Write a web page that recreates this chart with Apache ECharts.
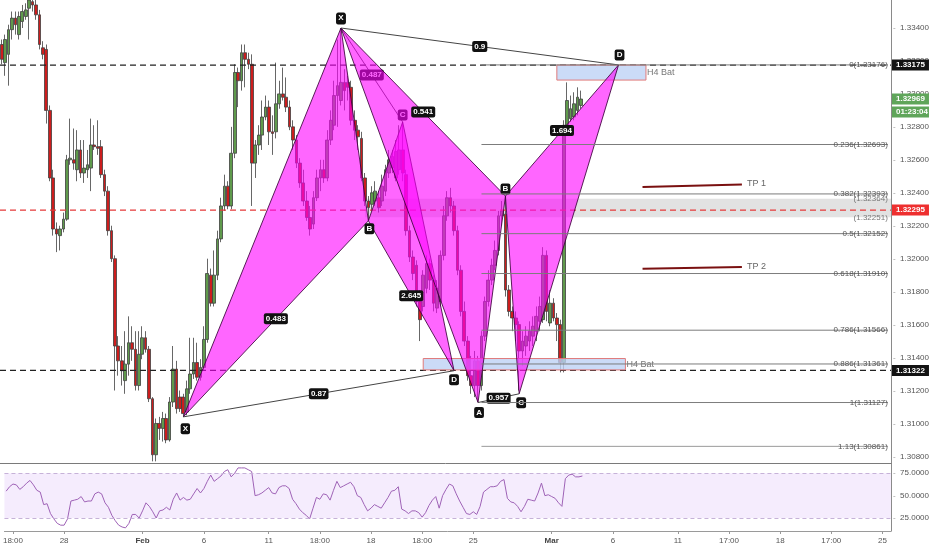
<!DOCTYPE html>
<html>
<head>
<meta charset="utf-8">
<script src="https://cdn.jsdelivr.net/npm/echarts@6/dist/echarts.min.js"></script>
<style>
  html, body { margin: 0; padding: 0; background: #fff; }
  #chart { width: 932px; height: 550px; }
</style>
</head>
<body>
<div id="chart"></div>
<script>
// 4H candles, [open, close, low, high]
const candles = [
  [1.3330,1.3321,1.3318,1.3333],[1.3319,1.3333,1.3311,1.3336],[1.3324,1.3339,1.3305,1.3342],[1.3339,1.3346,1.3333,1.3350],[1.3346,1.3342,1.3336,1.3350],
  [1.3336,1.3347,1.3333,1.3350],[1.3344,1.3350,1.3340,1.3354],[1.3347,1.3351,1.3345,1.3355],[1.3352,1.3357,1.3333,1.3360],[1.3356,1.3354,1.3350,1.3359],
  [1.3354,1.3348,1.3345,1.3357],[1.3348,1.3330,1.3327,1.3351],[1.3328,1.3324,1.3321,1.3332],[1.3327,1.3290,1.3282,1.3330],[1.3290,1.3249,1.3247,1.3293],
  [1.3249,1.3218,1.3214,1.3254],[1.3218,1.3215,1.3204,1.3222],[1.3214,1.3218,1.3205,1.3220],[1.3218,1.3224,1.3216,1.3228],[1.3224,1.3260,1.3223,1.3263],
  [1.3260,1.3261,1.3257,1.3285],[1.3260,1.3258,1.3254,1.3279],[1.3254,1.3266,1.3247,1.3278],[1.3266,1.3252,1.3249,1.3272],[1.3252,1.3255,1.3246,1.3272],
  [1.3254,1.3257,1.3249,1.3266],[1.3255,1.3269,1.3241,1.3285],[1.3269,1.3268,1.3266,1.3281],[1.3268,1.3267,1.3263,1.3284],[1.3268,1.3251,1.3249,1.3272],
  [1.3251,1.3241,1.3238,1.3254],[1.3241,1.3217,1.3214,1.3244],[1.3217,1.3200,1.3198,1.3220],[1.3200,1.3147,1.3120,1.3202],[1.3147,1.3138,1.3129,1.3153],
  [1.3138,1.3132,1.3123,1.3147],[1.3126,1.3136,1.3118,1.3156],[1.3136,1.3149,1.3129,1.3165],[1.3149,1.3145,1.3138,1.3159],[1.3145,1.3123,1.3120,1.3156],
  [1.3123,1.3142,1.3120,1.3156],[1.3142,1.3152,1.3139,1.3159],[1.3152,1.3145,1.3143,1.3156],[1.3145,1.3115,1.3113,1.3147],[1.3115,1.3081,1.3077,1.3116],
  [1.3081,1.3100,1.3077,1.3103],[1.3100,1.3097,1.3090,1.3104],[1.3097,1.3103,1.3089,1.3107],[1.3103,1.3090,1.3088,1.3106],[1.3090,1.3113,1.3089,1.3116],
  [1.3113,1.3133,1.3110,1.3147],[1.3133,1.3109,1.3106,1.3138],[1.3116,1.3109,1.3107,1.3120],[1.3116,1.3106,1.3104,1.3118],[1.3107,1.3121,1.3105,1.3126],
  [1.3121,1.3130,1.3118,1.3152],[1.3130,1.3137,1.3127,1.3152],[1.3137,1.3128,1.3126,1.3149],[1.3128,1.3134,1.3126,1.3139],[1.3134,1.3151,1.3132,1.3159],
  [1.3151,1.3191,1.3149,1.3200],[1.3190,1.3173,1.3171,1.3194],[1.3173,1.3190,1.3171,1.3205],[1.3190,1.3212,1.3187,1.3217],[1.3212,1.3232,1.3210,1.3237],
  [1.3232,1.3244,1.3229,1.3251],[1.3244,1.3232,1.3230,1.3247],[1.3232,1.3264,1.3230,1.3280],[1.3264,1.3313,1.3261,1.3318],[1.3313,1.3308,1.3292,1.3316],
  [1.3308,1.3325,1.3302,1.3330],[1.3325,1.3321,1.3304,1.3330],[1.3321,1.3318,1.3315,1.3325],[1.3318,1.3258,1.3232,1.3324],[1.3258,1.3269,1.3249,1.3272],
  [1.3269,1.3275,1.3263,1.3281],[1.3275,1.3286,1.3266,1.3296],[1.3286,1.3292,1.3284,1.3299],[1.3292,1.3277,1.3269,1.3296],[1.3277,1.3276,1.3263,1.3287],
  [1.3277,1.3294,1.3273,1.3319],[1.3294,1.3300,1.3291,1.3308],[1.3300,1.3298,1.3296,1.3316],[1.3298,1.3292,1.3289,1.3310],[1.3292,1.3280,1.3278,1.3296],
  [1.3280,1.3272,1.3266,1.3284],[1.3272,1.3258,1.3255,1.3275],[1.3258,1.3246,1.3243,1.3261],[1.3246,1.3235,1.3232,1.3254],[1.3235,1.3225,1.3223,1.3241],
  [1.3225,1.3218,1.3214,1.3232],[1.3221,1.3237,1.3218,1.3241],[1.3237,1.3249,1.3235,1.3254],[1.3249,1.3254,1.3241,1.3260],[1.3254,1.3249,1.3246,1.3260],
  [1.3249,1.3272,1.3247,1.3278],[1.3272,1.3284,1.3269,1.3290],[1.3281,1.3299,1.3278,1.3308],[1.3299,1.3305,1.3280,1.3333],[1.3296,1.3307,1.3293,1.3340],
  [1.3307,1.3302,1.3290,1.3315],[1.3307,1.3304,1.3296,1.3311],[1.3304,1.3284,1.3281,1.3308],[1.3284,1.3278,1.3272,1.3290],[1.3278,1.3274,1.3266,1.3281],
  [1.3273,1.3249,1.3247,1.3277],[1.3249,1.3235,1.3232,1.3252],[1.3235,1.3231,1.3223,1.3238],[1.3233,1.3240,1.3229,1.3244],[1.3235,1.3241,1.3232,1.3247],
  [1.3237,1.3231,1.3228,1.3241],[1.3235,1.3244,1.3232,1.3251],[1.3241,1.3254,1.3238,1.3257],[1.3252,1.3260,1.3249,1.3266],[1.3255,1.3262,1.3252,1.3266],
  [1.3249,1.3265,1.3247,1.3272],[1.3254,1.3266,1.3251,1.3281],[1.3266,1.3252,1.3247,1.3283],[1.3251,1.3217,1.3214,1.3254],[1.3217,1.3201,1.3198,1.3220],
  [1.3201,1.3191,1.3187,1.3205],[1.3196,1.3174,1.3171,1.3199],[1.3174,1.3163,1.3150,1.3181],[1.3171,1.3190,1.3168,1.3193],[1.3182,1.3197,1.3179,1.3202],
  [1.3197,1.3187,1.3181,1.3200],[1.3187,1.3173,1.3168,1.3190],[1.3170,1.3182,1.3167,1.3187],[1.3174,1.3202,1.3171,1.3205],[1.3202,1.3226,1.3199,1.3232],
  [1.3226,1.3237,1.3223,1.3241],[1.3237,1.3232,1.3228,1.3243],[1.3232,1.3217,1.3214,1.3235],[1.3217,1.3193,1.3190,1.3220],[1.3193,1.3168,1.3165,1.3196],
  [1.3168,1.3150,1.3147,1.3174],[1.3150,1.3129,1.3126,1.3153],[1.3129,1.3123,1.3118,1.3141],[1.3123,1.3138,1.3116,1.3144],[1.3138,1.3123,1.3113,1.3141],
  [1.3123,1.3153,1.3120,1.3156],[1.3153,1.3174,1.3150,1.3177],[1.3174,1.3187,1.3171,1.3193],[1.3187,1.3196,1.3184,1.3200],[1.3196,1.3205,1.3193,1.3211],
  [1.3205,1.3226,1.3202,1.3229],[1.3226,1.3229,1.3220,1.3235],[1.3227,1.3181,1.3177,1.3238],[1.3181,1.3168,1.3165,1.3184],[1.3168,1.3164,1.3156,1.3171],
  [1.3164,1.3160,1.3150,1.3168],[1.3160,1.3144,1.3120,1.3162],[1.3144,1.3150,1.3135,1.3156],[1.3147,1.3153,1.3141,1.3159],[1.3150,1.3156,1.3144,1.3162],
  [1.3153,1.3159,1.3147,1.3165],[1.3156,1.3165,1.3150,1.3171],[1.3162,1.3171,1.3156,1.3177],[1.3163,1.3202,1.3161,1.3207],[1.3202,1.3168,1.3162,1.3205],
  [1.3161,1.3173,1.3159,1.3181],[1.3173,1.3164,1.3162,1.3176],[1.3164,1.3160,1.3150,1.3167],[1.3160,1.3137,1.3131,1.3163],[1.3137,1.3281,1.3131,1.3284],
  [1.3281,1.3296,1.3278,1.3307],[1.3285,1.3291,1.3283,1.3299],[1.3286,1.3294,1.3284,1.3301],[1.3290,1.3298,1.3287,1.3304],[1.3293,1.32969,1.3291,1.3302]
];

// RSI(14), one value per candle
const rsi = [
  55,60,63,62,57,60,64,67,62,56, 54,40,41,30,24,19,17,17,24,44,
  45,46,49,43,44,44,52,54,52,42, 37,28,22,17,15,14,19,29,29,25,
  33,42,38,32,25,33,34,37,34,46, 53,45,48,45,46,52,58,53,58,66,
  73,66,69,72,77,79,71,75,81,81, 81,79,77,50,51,53,56,59,53,52,
  59,61,61,58,46,41,35,31,28,24, 36,48,46,52,51,45,56,66,59,61,
  63,65,60,50,48,40,33,36,40,38, 36,42,48,55,56,60,35,33,30,33,
  33,31,26,31,39,45,49,36,50,57, 63,61,52,44,37,30,29,32,29,38,
  54,57,60,60,61,66,68,47,43,42, 38,32,38,46,45,44,53,64,50,51,
  49,47,42,38,69,73,74,71,71,72
];

const barCount = 260;
const tickIdx = [2, 17, 40, 58, 77, 92, 107, 122, 137, 160, 178, 197, 212, 227, 242, 257];
const tickText = ['18:00', '28', 'Feb', '6', '11', '18:00', '18', '18:00', '25', 'Mar', '6', '11', '17:00', '18', '17:00', '25'];
const monthTicks = ['Feb', 'Mar'];

// harmonic patterns: X, A, B, C, D
const batOneBars = [53, 99, 107, 117, 132];
const batOnePrices = [1.3104, 1.3340, 1.3223, 1.3283, 1.3132];
const batOneRatios = ['0.483', '0.487', '2.645', '0.87'];   // XB, AC, BD, XD
const batTwoBars = [99, 139, 147, 151, 180];
const batTwoPrices = [1.3340, 1.31127, 1.3238, 1.3118, 1.33176];
const batTwoRatios = ['0.541', '0.957', '1.694', '0.9'];

// fib retracement
const fibLevels = ['0', '0.236', '0.382', '0.5', '0.618', '0.786', '0.886', '1', '1.13'];
const fibPrices = [1.33176, 1.32693, 1.32393, 1.32152, 1.31910, 1.31566, 1.31361, 1.31127, 1.30861];
const fibFrom = 140, fibTo = 258;

// zone, boxes, targets
const zonePrices = [1.32364, 1.32251];
const zoneFrom = 106;
const boxBars = [[162, 188], [123, 182]];
const boxPrices = [[1.33175, 1.33084], [1.31394, 1.31325]];
const boxText = ['H4 Bat', 'H4 Bat'];
const tpBars = [187, 216];
const tpPrices = [[1.32435, 1.32450], [1.31939, 1.31949]];
const tpText = ['TP 1', 'TP 2'];

// horizontal levels and price-scale badges
const levelPrices = [1.33175, 1.31322, 1.32295];
const levelColors = ['#222', '#222', '#e53a3a'];
const lastPrice = 1.32969;
const countdown = '01:23:04';
const badgePrices = [1.33175, 1.32969, 1.32295, 1.31322];
const badgeColors = ['#131313', '#5fa55a', '#ee2f2f', '#131313'];

const FONT = '"Liberation Sans", Arial, sans-serif';
const cats = Array.from({ length: barCount }, (_, i) => String(i));

function tag(text, x, y, bg) {
  return {
    type: 'text', x: x, y: y,
    style: {
      text: text, fill: '#fff', font: 'bold 8px ' + FONT, align: 'center', verticalAlign: 'middle',
      backgroundColor: bg || '#111', padding: [2, 2, 1, 2], borderRadius: 2
    }
  };
}

function batRender(bars, prices, ratios, offsets) {
  return function (params, api) {
    const p = bars.map((b, k) => api.coord([b, prices[k]]));
    const X = p[0], A = p[1], B = p[2], C = p[3], D = p[4];
    const fill = 'rgba(255,0,255,0.6)';
    const edge = 'rgba(60,0,60,0.85)';
    const kids = [
      { type: 'polygon', shape: { points: [X, A, B] }, style: { fill: fill, stroke: edge, lineWidth: 1 } },
      { type: 'polygon', shape: { points: [B, C, D] }, style: { fill: fill, stroke: edge, lineWidth: 1 } },
      { type: 'line', shape: { x1: X[0], y1: X[1], x2: D[0], y2: D[1] }, style: { stroke: '#444', lineWidth: 1 } },
      { type: 'line', shape: { x1: A[0], y1: A[1], x2: C[0], y2: C[1] }, style: { stroke: '#444', lineWidth: 1 } }
    ];
    [[X, B], [A, C], [B, D], [X, D]].forEach((pr, k) => {
      kids.push(tag(ratios[k], (pr[0][0] + pr[1][0]) / 2, (pr[0][1] + pr[1][1]) / 2));
    });
    'XABCD'.split('').forEach((ch, k) => {
      kids.push(tag(ch, p[k][0] + offsets[k][0], p[k][1] + offsets[k][1]));
    });
    return { type: 'group', children: kids };
  };
}

const chart = echarts.init(document.getElementById('chart'));

const option = {
  animation: false,
  textStyle: { fontFamily: FONT },
  grid: [
    { left: 0, top: 0, width: 894, height: 463 },
    { left: 0, top: 463, width: 894, height: 68 }
  ],
  xAxis: [
    {
      type: 'category', gridIndex: 0, data: cats, boundaryGap: true,
      axisLine: { show: true, lineStyle: { color: '#7a7a7a', width: 1 } },
      axisTick: { show: false }, axisLabel: { show: false }, splitLine: { show: false }
    },
    {
      type: 'category', gridIndex: 1, data: cats, boundaryGap: true,
      axisLine: { show: true, lineStyle: { color: '#9a9a9a', width: 1 } },
      axisTick: {
        show: true, alignWithLabel: true, length: 3, lineStyle: { color: '#999' },
        interval: (idx) => tickIdx.includes(idx)
      },
      axisLabel: {
        show: true, margin: 6, fontSize: 8, color: '#555',
        interval: (idx) => tickIdx.includes(idx),
        formatter: (val) => {
          const k = tickIdx.indexOf(Number(val));
          if (k < 0) return '';
          const t = tickText[k];
          return monthTicks.includes(t) ? '{b|' + t + '}' : t;
        },
        rich: { b: { fontWeight: 'bold', fontSize: 8, color: '#444' } }
      },
      splitLine: { show: false }
    }
  ],
  yAxis: [
    {
      type: 'value', gridIndex: 0, position: 'right', min: 1.3076, max: 1.3357, interval: 0.0002,
      axisLine: { show: true, lineStyle: { color: '#8a8a8a' } },
      axisTick: { show: false }, splitLine: { show: false },
      axisLabel: {
        show: true, margin: 2, fontSize: 8, color: '#555',
        formatter: (v) => {
          const k = Math.round(v * 500);
          return Math.abs(v * 500 - k) < 1e-6 ? '{t|-}  ' + v.toFixed(5) : '';
        },
        rich: { t: { color: '#999', fontSize: 8 } }
      }
    },
    {
      type: 'value', gridIndex: 1, position: 'right', min: 10.5, max: 86.5, interval: 0.5,
      axisLine: { show: true, lineStyle: { color: '#8a8a8a' } },
      axisTick: { show: false }, splitLine: { show: false },
      axisLabel: {
        show: true, margin: 2, fontSize: 8, color: '#555',
        formatter: (v) => (v === 25 || v === 50 || v === 75) ? '{t|-}  ' + v.toFixed(4) : '',
        rich: { t: { color: '#999', fontSize: 8 } }
      }
    }
  ],
  series: [
    {
      // supply/demand zone
      type: 'custom', xAxisIndex: 0, yAxisIndex: 0, z: 1, silent: true,
      data: [[0, zonePrices[0]]],
      renderItem: (params, api) => {
        const a = api.coord([zoneFrom, zonePrices[0]]);
        const b = api.coord([zoneFrom, zonePrices[1]]);
        const right = params.coordSys.x + params.coordSys.width;
        return {
          type: 'rect', shape: { x: a[0], y: a[1], width: right - a[0], height: b[1] - a[1] },
          style: { fill: 'rgba(185,185,185,0.42)' }
        };
      }
    },
    {
      type: 'candlestick', xAxisIndex: 0, yAxisIndex: 0, z: 2, clip: true,
      data: candles, barWidth: 3.2,
      itemStyle: {
        color: '#5f9a4c', color0: '#cc1d1d',
        borderColor: '#404040', borderColor0: '#404040', borderWidth: 0.8
      }
    },
    {
      // full-width dashed levels
      type: 'custom', xAxisIndex: 0, yAxisIndex: 0, z: 3, silent: true,
      data: [[0, levelPrices[0]]],
      renderItem: (params, api) => {
        const left = params.coordSys.x;
        const right = params.coordSys.x + params.coordSys.width;
        return {
          type: 'group',
          children: levelPrices.map((p, k) => {
            const y = api.coord([0, p])[1];
            return {
              type: 'line', shape: { x1: left, y1: y, x2: right, y2: y },
              style: { stroke: levelColors[k], lineWidth: 1.4, lineDash: [6, 4] }
            };
          })
        };
      }
    },
    {
      // H4 Bat boxes
      type: 'custom', xAxisIndex: 0, yAxisIndex: 0, z: 3, silent: true,
      data: [[0, boxPrices[0][0]]],
      renderItem: (params, api) => {
        const kids = [];
        boxBars.forEach((bb, k) => {
          const a = api.coord([bb[0], boxPrices[k][0]]);
          const b = api.coord([bb[1], boxPrices[k][1]]);
          kids.push({
            type: 'rect', shape: { x: a[0], y: a[1], width: b[0] - a[0], height: b[1] - a[1] },
            style: { fill: 'rgba(190,210,245,0.8)', stroke: '#e07a7a', lineWidth: 1 }
          });
          kids.push({
            type: 'text', x: b[0] + 1, y: (a[1] + b[1]) / 2,
            style: { text: boxText[k], fill: '#777', font: '9px ' + FONT, align: 'left', verticalAlign: 'middle' }
          });
        });
        return { type: 'group', children: kids };
      }
    },
    {
      type: 'custom', xAxisIndex: 0, yAxisIndex: 0, z: 4, silent: true,
      data: [[0, batOnePrices[0]]],
      renderItem: batRender(batOneBars, batOnePrices, batOneRatios,
        [[2, 12], [0, -9], [1, 8], [0, -7], [0, 9]])
    },
    {
      type: 'custom', xAxisIndex: 0, yAxisIndex: 0, z: 4, silent: true,
      data: [[0, batTwoPrices[0]]],
      renderItem: batRender(batTwoBars, batTwoPrices, batTwoRatios,
        [[0, -10], [1, 10], [0, -7], [2, 9], [1, -10]])
    },
    {
      // fib retracement lines and labels
      type: 'custom', xAxisIndex: 0, yAxisIndex: 0, z: 5, silent: true,
      data: [[0, fibPrices[0]]],
      renderItem: (params, api) => {
        const kids = [];
        const x1 = api.coord([fibFrom, fibPrices[0]])[0];
        const x2 = api.coord([fibTo, fibPrices[0]])[0] + 2;
        fibPrices.forEach((p, k) => {
          const y = api.coord([fibFrom, p])[1];
          kids.push({
            type: 'line', shape: { x1: x1, y1: y, x2: x2, y2: y },
            style: { stroke: k === fibPrices.length - 1 ? '#9a9a9a' : '#7c7c7c', lineWidth: 1 }
          });
          kids.push({
            type: 'text', x: x2, y: y,
            style: { text: fibLevels[k] + '(' + p.toFixed(5) + ')', fill: '#555', font: '8px ' + FONT, align: 'right', verticalAlign: 'middle' }
          });
        });
        zonePrices.forEach((p) => {
          const y = api.coord([fibFrom, p])[1];
          kids.push({
            type: 'text', x: x2, y: y,
            style: { text: '(' + p.toFixed(5) + ')', fill: '#777', font: '8px ' + FONT, align: 'right', verticalAlign: 'middle' }
          });
        });
        return { type: 'group', children: kids };
      }
    },
    {
      // take-profit marks
      type: 'custom', xAxisIndex: 0, yAxisIndex: 0, z: 5, silent: true,
      data: [[0, tpPrices[0][0]]],
      renderItem: (params, api) => {
        const kids = [];
        tpPrices.forEach((pp, k) => {
          const a = api.coord([tpBars[0], pp[0]]);
          const b = api.coord([tpBars[1], pp[1]]);
          kids.push({
            type: 'line', shape: { x1: a[0], y1: a[1], x2: b[0], y2: b[1] },
            style: { stroke: '#7a1010', lineWidth: 2 }
          });
          kids.push({
            type: 'text', x: b[0] + 5, y: b[1] - 1,
            style: { text: tpText[k], fill: '#666', font: '9px ' + FONT, align: 'left', verticalAlign: 'middle' }
          });
        });
        return { type: 'group', children: kids };
      }
    },
    {
      // price-scale badges
      type: 'custom', xAxisIndex: 0, yAxisIndex: 0, z: 10, silent: true,
      data: [[0, lastPrice]],
      renderItem: (params, api) => {
        const x = params.coordSys.x + params.coordSys.width + 1;
        const kids = [];
        badgePrices.forEach((p, k) => {
          const y = api.coord([0, p])[1];
          kids.push({
            type: 'text', x: x, y: y,
            style: {
              text: p.toFixed(5), fill: '#fff', font: 'bold 8px ' + FONT, align: 'left', verticalAlign: 'middle',
              backgroundColor: badgeColors[k], padding: [2, 4, 1, 4], width: 29
            }
          });
        });
        const yl = api.coord([0, lastPrice])[1];
        kids.push({
          type: 'text', x: x, y: yl + 13,
          style: {
            text: countdown, fill: '#fff', font: 'bold 8px ' + FONT, align: 'left', verticalAlign: 'middle',
            backgroundColor: badgeColors[1], padding: [2, 4, 1, 4], width: 29
          }
        });
        return { type: 'group', children: kids };
      }
    },
    {
      name: 'RSI', type: 'line', xAxisIndex: 1, yAxisIndex: 1, data: rsi,
      symbol: 'none', lineStyle: { color: '#9e62b6', width: 1 }, z: 3,
      markArea: {
        silent: true, itemStyle: { color: 'rgba(200,150,245,0.18)' },
        data: [[{ yAxis: 25 }, { yAxis: 75 }]]
      },
      markLine: {
        silent: true, symbol: 'none', label: { show: false },
        lineStyle: { color: '#c6b2d8', type: [4, 3], width: 1 },
        data: [{ yAxis: 75 }, { yAxis: 25 }]
      }
    }
  ]
};

chart.setOption(option);
</script>
</body>
</html>
